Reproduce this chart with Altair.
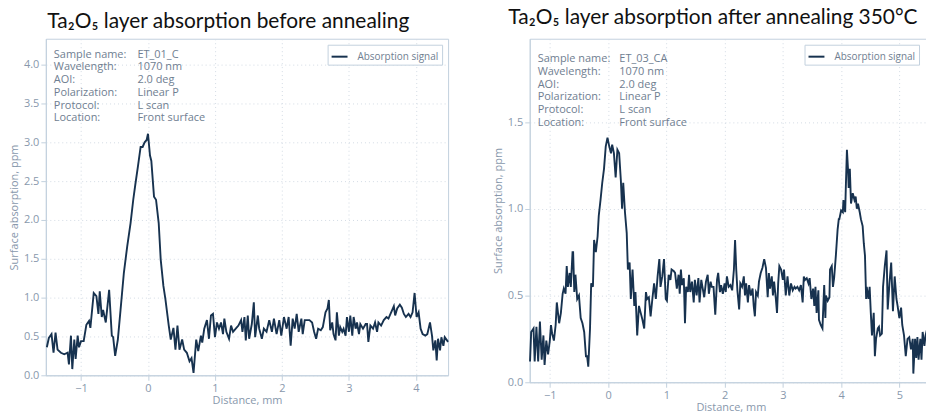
import altair as alt
import pandas as pd

# ---------------- data: before annealing (ET_01_C) ----------------
xa1 = [-1.51,-1.48,-1.44,-1.41,-1.38,-1.35,-1.30,-1.25,-1.20,-1.18,
       -1.15,-1.13,-1.10,-1.08,-1.05,-1.03,-1.00,-0.96,-0.92,-0.88,
       -0.86,-0.81,-0.77,-0.74,-0.72,-0.69,-0.67,-0.63,-0.58,-0.54,
       -0.52,-0.49,-0.45,-0.41,-0.36,-0.31,-0.26,-0.22,-0.19,-0.15,
       -0.11,-0.08,-0.05,-0.02,0.00,0.03,0.05,0.09,0.12,0.16,
       0.19,0.23,0.26,0.31,0.34,0.38,0.41,0.44,0.47,0.51,
       0.54,0.58,0.62,0.65,0.68,0.72,0.75,0.79]
ya1 = [0.36,0.48,0.53,0.29,0.55,0.33,0.29,0.27,0.29,0.14,
       0.51,0.08,0.46,0.21,0.51,0.36,0.44,0.44,0.65,0.70,
       0.61,1.06,1.02,0.79,1.08,0.75,0.84,0.68,1.10,0.51,
       0.49,0.25,0.46,0.84,1.32,1.66,1.96,2.26,2.45,2.69,
       2.94,2.94,3.00,3.03,3.11,2.83,2.76,2.30,2.26,1.96,
       1.49,1.15,0.98,0.64,0.46,0.61,0.33,0.64,0.33,0.46,
       0.33,0.29,0.18,0.22,0.03,0.46,0.31,0.51]
xa2 = [0.81,0.84,0.88,0.91,0.94,0.97,1.00,1.03,1.06,1.09,
       1.12,1.14,1.17,1.21,1.24,1.27,1.31,1.35,1.39,1.41,
       1.44,1.46,1.49,1.51,1.55,1.58,1.60,1.64,1.66,1.70,
       1.73,1.77,1.81,1.85,1.88,1.92,1.96,1.99,2.03,2.07,
       2.10,2.13,2.16,2.19,2.22,2.25,2.29,2.31,2.34,2.38,
       2.41,2.45,2.48,2.51,2.54,2.58,2.61]
ya2 = [0.42,0.60,0.71,0.47,0.77,0.79,0.49,0.68,0.60,0.68,
       0.53,0.73,0.56,0.47,0.64,0.56,0.60,0.64,0.71,0.56,
       0.75,0.45,0.77,0.47,0.66,0.94,0.49,0.77,0.60,0.47,
       0.60,0.56,0.71,0.56,0.73,0.53,0.71,0.51,0.75,0.60,
       0.75,0.38,0.73,0.60,0.79,0.56,0.73,0.53,0.71,0.71,
       0.71,0.68,0.56,0.47,0.60,0.58,0.62]
xa3 = [2.65,2.68,2.70,2.72,2.75,2.77,2.80,2.82,2.85,2.87,
       2.90,2.92,2.95,2.97,3.00,3.02,3.05,3.07,3.10,3.12,
       3.15,3.17,3.21,3.25,3.27,3.29,3.32,3.36,3.39,3.42,
       3.44,3.48,3.52,3.56,3.59,3.62,3.64,3.67,3.69,3.72,
       3.76,3.79,3.82,3.85,3.89,3.92,3.95,3.98,4.01,4.04,
       4.07,4.10,4.14,4.17,4.21,4.24,4.26,4.29,4.31,4.33,
       4.36,4.38,4.41,4.43,4.48]
ya3 = [0.81,0.86,0.97,0.58,0.68,0.53,0.45,0.81,0.51,0.62,
       0.56,0.60,0.51,0.75,0.56,0.77,0.51,0.75,0.60,0.68,
       0.53,0.66,0.60,0.66,0.66,0.43,0.64,0.60,0.68,0.56,
       0.68,0.64,0.71,0.75,0.73,0.79,0.83,0.89,0.77,0.86,
       0.91,0.87,0.79,0.75,0.79,0.75,0.81,1.06,0.75,0.81,
       0.60,0.53,0.51,0.53,0.68,0.51,0.32,0.45,0.19,0.47,
       0.32,0.49,0.38,0.49,0.43]

# ---------------- data: after annealing 350 C (ET_03_CA) ----------------
xb1 = [-1.34,-1.32,-1.28,-1.26,-1.23,-1.20,-1.17,-1.14,-1.11,-1.09,
       -1.06,-1.03,-1.00,-0.98,-0.96,-0.93,-0.90,-0.88,-0.84,-0.81,
       -0.78,-0.76,-0.73,-0.71,-0.69,-0.66,-0.64,-0.61,-0.60,-0.58,
       -0.56,-0.53,-0.50,-0.47,-0.44,-0.41,-0.38,-0.36,-0.34,-0.31,
       -0.29,-0.26,-0.24,-0.21,-0.18,-0.16,-0.13,-0.10,-0.07,-0.04,
       -0.01,0.02,0.05,0.07,0.10,0.13,0.16,0.19,0.22,0.24,
       0.26,0.29,0.32,0.34,0.37,0.39,0.42,0.45,0.47,0.50,
       0.53,0.56,0.59,0.62,0.65,0.67,0.70,0.73,0.76,0.79,
       0.82,0.85,0.88,0.90,0.93,0.96,0.99]
yb1 = [0.12,0.29,0.31,0.12,0.32,0.12,0.35,0.13,0.27,0.10,
       0.24,0.16,0.24,0.33,0.28,0.24,0.33,0.46,0.34,0.40,
       0.51,0.54,0.51,0.67,0.55,0.63,0.55,0.75,0.75,0.52,
       0.62,0.48,0.50,0.37,0.34,0.29,0.15,0.15,0.09,0.31,
       0.57,0.55,0.82,0.75,0.84,0.96,1.05,1.15,1.23,1.36,
       1.41,1.36,1.32,1.37,1.32,1.18,1.34,1.32,1.16,1.00,
       1.15,0.98,0.86,0.65,0.69,0.48,0.65,0.44,0.52,0.27,
       0.44,0.40,0.36,0.31,0.52,0.48,0.49,0.38,0.48,0.57,
       0.48,0.61,0.71,0.55,0.61,0.71,0.48]
xb2 = [1.01,1.04,1.07,1.09,1.13,1.15,1.18,1.21,1.23,1.25,
       1.27,1.30,1.32,1.34,1.37,1.39,1.41,1.44,1.47,1.49,
       1.52,1.55,1.57,1.60,1.62,1.65,1.68,1.71,1.73,1.76,
       1.78,1.81,1.84,1.87,1.89,1.92,1.94,1.97,2.00,2.02,
       2.04,2.07,2.10,2.13,2.16,2.18,2.20,2.22,2.25,2.27,
       2.30,2.33,2.35,2.37,2.40,2.42,2.45,2.48,2.50,2.52,
       2.54,2.57,2.59,2.62,2.65,2.68,2.71,2.74,2.76,2.78,
       2.81,2.83,2.85,2.88,2.90,2.92,2.94,2.97,3.00,3.02,
       3.05,3.08,3.11,3.14,3.17]
yb2 = [0.47,0.62,0.59,0.65,0.64,0.63,0.54,0.62,0.51,0.65,
       0.56,0.60,0.34,0.55,0.52,0.62,0.52,0.58,0.46,0.59,
       0.50,0.60,0.46,0.59,0.55,0.49,0.58,0.62,0.51,0.58,
       0.55,0.55,0.39,0.59,0.63,0.52,0.56,0.51,0.57,0.52,
       0.61,0.55,0.56,0.53,0.65,0.82,0.65,0.53,0.42,0.57,
       0.55,0.61,0.50,0.57,0.46,0.56,0.50,0.54,0.44,0.38,
       0.52,0.50,0.58,0.63,0.66,0.71,0.66,0.49,0.63,0.54,
       0.61,0.50,0.58,0.48,0.40,0.57,0.67,0.65,0.59,0.65,
       0.50,0.61,0.50,0.57,0.53]
xb3 = [3.20,3.22,3.25,3.28,3.31,3.34,3.36,3.38,3.41,3.44,
       3.46,3.49,3.52,3.54,3.56,3.58,3.61,3.62,3.65,3.68,
       3.70,3.71,3.73,3.74,3.77,3.80,3.81,3.84,3.86,3.88,
       3.91,3.94,3.96,3.97,4.00,4.03,4.04,4.07,4.08,4.10,
       4.12,4.13,4.15,4.17,4.20,4.23,4.25,4.27,4.29,4.32,
       4.34,4.37,4.39,4.41,4.43,4.44,4.47,4.49,4.51,4.53,
       4.56,4.58,4.60,4.63,4.65,4.67,4.70,4.72,4.75,4.78,
       4.80,4.83,4.86,4.89,4.92,4.95,4.97,5.00,5.03,5.05,
       5.08,5.11,5.14,5.17,5.20,5.23,5.24,5.27,5.29,5.31,
       5.33,5.36,5.38,5.40,5.43,5.45,5.48,5.51,5.54,5.57]
yb3 = [0.55,0.54,0.55,0.53,0.56,0.46,0.61,0.59,0.60,0.57,
       0.60,0.48,0.54,0.44,0.55,0.40,0.53,0.36,0.33,0.31,
       0.48,0.56,0.37,0.50,0.47,0.49,0.65,0.67,0.55,0.60,
       0.73,0.88,0.94,0.94,0.99,0.98,1.05,0.98,1.11,1.34,
       1.22,1.12,1.23,1.03,1.09,1.05,1.07,1.00,1.03,0.98,
       0.94,0.90,0.80,0.73,0.48,0.55,0.48,0.55,0.40,0.27,
       0.40,0.15,0.25,0.31,0.32,0.27,0.28,0.55,0.67,0.76,
       0.42,0.57,0.69,0.41,0.61,0.48,0.44,0.37,0.43,0.33,
       0.27,0.15,0.25,0.26,0.19,0.25,0.05,0.25,0.14,0.26,
       0.13,0.25,0.13,0.29,0.21,0.27,0.31,0.25,0.30,0.19]

# ---------------- texts / ticks ----------------
info_labels = ["Sample name:", "Wavelength:", "AOI:", "Polarization:", "Protocol:", "Location:"]
info_left = ["ET_01_C", "1070 nm", "2.0 deg", "Linear P", "L scan", "Front surface"]
info_right = ["ET_03_CA", "1070 nm", "2.0 deg", "Linear P", "L scan", "Front surface"]
title_left = "Ta\u2082O\u2085 layer absorption before annealing"
title_right = "Ta\u2082O\u2085 layer absorption after annealing 350\u00b0C"
series_name = "Absorption signal"
xticks_left = [-1, 0, 1, 2, 3, 4]
xticks_right = [-1, 0, 1, 2, 3, 4, 5]
yticks_left = [0.0, 0.5, 1.0, 1.5, 2.0, 2.5, 3.0, 3.5, 4.0]
yticks_right = [0.0, 0.5, 1.0, 1.5]

LINE = "#17324f"
FRAME = "#c3d1de"
GRID = "#d3dbe4"
TXT = "#8898ac"
INFO = "#6f7e91"


def panel(x, y, xdom, ydom, xticks, yticks, values, title, w, h, tdx, toff, vx, ty, legend_pos):
    df = pd.DataFrame({"Distance": x, "Absorption": y, "series": series_name})
    line = alt.Chart(df).mark_line(strokeWidth=1.9).encode(
        x=alt.X("Distance:Q",
                scale=alt.Scale(domain=xdom, nice=False, zero=False),
                axis=alt.Axis(values=xticks, format="d", title="Distance, mm",
                              titlePadding=1)),
        y=alt.Y("Absorption:Q",
                scale=alt.Scale(domain=ydom, nice=False, zero=False),
                axis=alt.Axis(values=yticks, format=".1f", title="Surface absorption, ppm")),
        color=alt.Color("series:N", scale=alt.Scale(range=[LINE]),
                        legend=alt.Legend(title=None, symbolType="stroke", symbolSize=256,
                                          symbolStrokeWidth=2, labelFontSize=10,
                                          labelFont="Open Sans", labelColor="#6f7e91",
                                          labelOffset=9, padding=3,
                                          strokeColor=FRAME, fillColor="white",
                                          **legend_pos)),
    )
    one = pd.DataFrame({"k": [0]})
    lab = alt.Chart(one).mark_text(text=info_labels, align="left", baseline="top",
                                   font="Open Sans", fontSize=11, color=INFO,
                                   lineHeight=12.8).encode(
        x=alt.value(8), y=alt.value(ty))
    val = alt.Chart(one).mark_text(text=values, align="left", baseline="top",
                                   font="Open Sans", fontSize=11, color=INFO,
                                   lineHeight=12.8).encode(
        x=alt.value(vx), y=alt.value(ty))
    return alt.layer(line, lab, val).properties(
        width=w, height=h,
        title=alt.TitleParams(text=title, anchor="start", frame="bounds",
                              font="Lato", fontSize=21, fontWeight="normal",
                              color="#111111", dx=tdx, dy=-8, offset=toff))


left = panel(xa1 + xa2 + xa3, ya1 + ya2 + ya3, [-1.525, 4.48], [0, 4.333],
             xticks_left, yticks_left, info_left, title_left, 404, 338, 39, -1, 92, 10,
             {"orient": "top-right", "offset": 6})
right = panel(xb1 + xb2 + xb3, yb1 + yb2 + yb3, [-1.345, 5.56], [0, 1.98],
              xticks_right, yticks_right, info_right, title_right, 404, 345, 16, 3, 90, 14.5,
              {"orient": "none", "legendX": 276, "legendY": 6})

chart = alt.hconcat(left, right, spacing=39).resolve_scale(
    color="independent").resolve_legend(color="independent").properties(
    padding={"left": 0, "top": -3, "right": -11, "bottom": 0}
).configure_view(stroke=FRAME, strokeWidth=1).configure_axis(
    domainColor=FRAME, tickColor=FRAME, tickSize=5, gridColor=GRID,
    gridDash=[1, 3], gridWidth=1, labelFont="Open Sans", labelFontSize=11,
    labelColor=TXT, titleFont="Open Sans", titleFontSize=11,
    titleFontWeight="normal", titleColor=TXT, labelPadding=2
).configure_legend(cornerRadius=0)

chart.save("out.html", embed_options={"renderer": "svg", "actions": False})
